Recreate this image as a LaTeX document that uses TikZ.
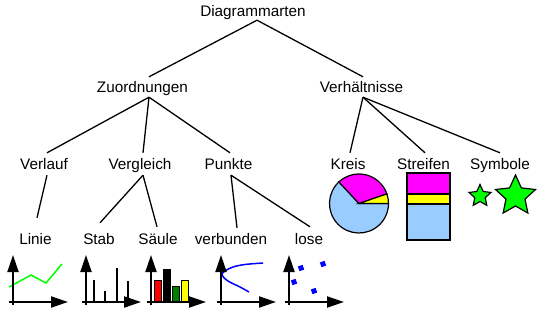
\documentclass[tikz,border=0pt]{standalone}
\usepackage{fontspec}
\setmainfont{Liberation Sans}
\usetikzlibrary{arrows.meta}
\definecolor{lblue}{RGB}{153,204,255}
\definecolor{mag}{RGB}{255,0,255}
\definecolor{yel}{RGB}{255,255,0}
\definecolor{grn}{RGB}{0,255,0}
\definecolor{dgrn}{RGB}{0,128,0}
\definecolor{blu}{RGB}{0,0,255}
\newcommand\chartaxes[1]{%
  \draw[axisline] (#1,305) -- (#1,255);
  \draw[axisline] ({#1-4},302) -- ({#1+55},302);}
\newcommand\greenstar[5]{%
  \foreach \i in {0,...,9}{%
    \pgfmathsetmacro\rr{mod(\i,2)==0 ? #4 : #5}%
    \coordinate (#1\i) at ([shift={(#2,#3)}]{90+36*\i}:\rr pt);}%
  \draw[starst] (#10) -- (#11) -- (#12) -- (#13) -- (#14) -- (#15) -- (#16) -- (#17) -- (#18) -- (#19) -- cycle;}
\begin{document}
\begin{tikzpicture}[x=1pt,y=-1pt,
  lbl/.style={inner sep=0pt, anchor=base, text height=16pt, text depth=5pt,
              font=\fontsize{15.3}{18}\selectfont},
  edge/.style={line width=1.3pt},
  axisline/.style={line width=2pt, -{Triangle[length=17pt,width=11pt]}},
  outl/.style={draw=black, line width=1.2pt},
  starst/.style={draw=black, line width=1.2pt, fill=grn, line join=miter},
  sq/.style={fill=blu, inner sep=0pt, minimum size=5pt, rotate=20}]
\useasboundingbox (0,0) rectangle (538,310);
% labels
\node[lbl] (D) at (253,17) {Diagrammarten};
\node[lbl] (Z) at (142.5,93) {Zuordnungen};
\node[lbl] (V) at (361.5,93) {Verhältnisse};
\node[lbl] (vl) at (44,169) {Verlauf};
\node[lbl] (vg) at (140,169) {Vergleich};
\node[lbl] (pk) at (228.5,169) {Punkte};
\node[lbl] (kr) at (348,169) {Kreis};
\node[lbl] (st) at (423.5,169) {Streifen};
\node[lbl] (sy) at (500,169) {Symbole};
\node[lbl] (li) at (35.5,244) {Linie};
\node[lbl] (sb) at (99,244) {Stab};
\node[lbl] (sa) at (158,244) {Säule};
\node[lbl] (vb) at (231,244) {verbunden};
\node[lbl] (lo) at (309,244) {lose};
% tree edges
\draw[edge] ([xshift=4pt,yshift=2pt]D.south) -- ([xshift=6.5pt]Z.north);
\draw[edge] ([xshift=4pt,yshift=2pt]D.south) -- ([xshift=1.5pt]V.north);
\draw[edge] ([xshift=6.5pt,yshift=1pt]Z.south) -- ([xshift=3pt]vl.north);
\draw[edge] ([xshift=6.5pt,yshift=1pt]Z.south) -- ([xshift=3pt]vg.north);
\draw[edge] ([xshift=6.5pt,yshift=1pt]Z.south) -- ([xshift=1.5pt]pk.north);
\draw[edge] ([xshift=1.5pt,yshift=1pt]V.south) -- ([xshift=2pt]kr.north);
\draw[edge] ([xshift=1.5pt,yshift=1pt]V.south) -- ([xshift=1.5pt]st.north);
\draw[edge] ([xshift=1.5pt,yshift=1pt]V.south) -- (sy.north);
\draw[edge] ([xshift=3pt,yshift=-1pt]vl.south) -- ([xshift=1.5pt,yshift=10pt]li.north);
\draw[edge] ([xshift=3pt,yshift=-1pt]vg.south) -- ([xshift=1pt,yshift=5pt]sb.north);
\draw[edge] ([xshift=3pt,yshift=-1pt]vg.south) -- ([xshift=-1pt,yshift=1pt]sa.north);
\draw[edge] ([xshift=2.5pt,yshift=-1pt]pk.south) -- ([xshift=6pt]vb.north);
\draw[edge] ([xshift=2.5pt,yshift=-1pt]pk.south) -- ([xshift=1pt,yshift=1pt]lo.north);
% chart 1: line
\draw[grn, line width=1.5pt] (9,287) -- (31,275) -- (46,283) -- (62,264);
\chartaxes{13}
% chart 2: sticks
\draw[line width=1.8pt] (94,302) -- (94,280) (105,302) -- (105,291) (117,302) -- (117,268) (128,302) -- (128,281);
\chartaxes{86}
% chart 3: columns
\draw[line width=0.9pt, fill=red] (154,280) rectangle (161,302);
\draw[line width=0.9pt, fill=black] (163,269) rectangle (170,302);
\draw[line width=0.9pt, fill=dgrn] (172,286) rectangle (179,302);
\draw[line width=0.9pt, fill=yel] (181,280) rectangle (188,302);
\chartaxes{151}
% chart 4: connected
\draw[blu, line width=1.5pt] plot[smooth, tension=0.6] coordinates {(263,263) (245,264.5) (233,267) (225,271) (222,275) (228,281) (240,287) (249,292)};
\chartaxes{221}
% chart 5: loose points
\node[sq] (q1) at (294,282) {};
\node[sq] (q2) at (301,268) {};
\node[sq] (q3) at (323,264) {};
\node[sq] (q4) at (314,291) {};
\chartaxes{289}
% pie
\coordinate (pc) at (359,203.5);
\draw[outl, fill=lblue] (pc) -- ++(133:29.5pt) arc[start angle=133, end angle=360, radius=29.5pt] -- cycle;
\draw[outl, fill=mag] (pc) -- ++(19:29.5pt) arc[start angle=19, end angle=133, radius=29.5pt] -- cycle;
\draw[outl, fill=yel] (pc) -- ++(0:29.5pt) arc[start angle=0, end angle=19, radius=29.5pt] -- cycle;
% stripes
\draw[outl, fill=mag] (407,173) rectangle (450,194);
\draw[outl, fill=yel] (407,194) rectangle (450,204);
\draw[outl, fill=lblue] (407,204) rectangle (450,240);
% stars
\greenstar{sA}{480}{196}{11.5}{5.5}
\greenstar{sB}{515.5}{196}{21}{10}
\end{tikzpicture}
\end{document}
